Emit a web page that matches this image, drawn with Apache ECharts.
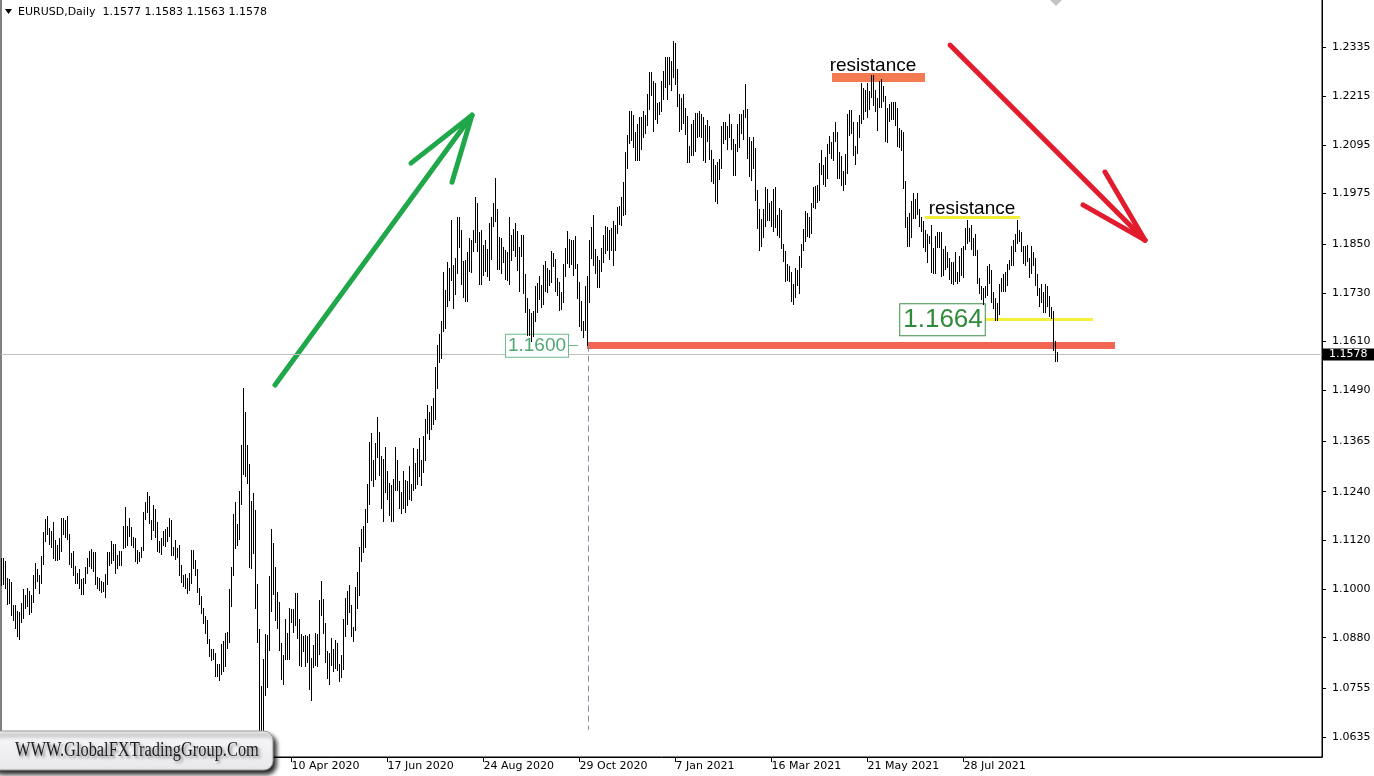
<!DOCTYPE html>
<html>
<head>
<meta charset="utf-8">
<title>EURUSD, Daily</title>
<script src="https://cdn.jsdelivr.net/npm/echarts@6/dist/echarts.min.js"></script>
<style>
  html, body { margin: 0; padding: 0; background: #ffffff; }
  #chart { width: 1374px; height: 776px; }
</style>
</head>
<body>
<div id="chart"></div>
<script>
// EURUSD daily bars, 18 Sep 2019 .. 1 Oct 2021 (one row per trading week)
const highs = [
  1.1075,1.1076,1.1068,
  1.1025,1.1024,1.1015,1.0959,1.0960,
  1.0944,1.0943,1.0964,1.0999,1.0984,
  1.1001,1.0994,1.0985,1.1034,1.1063,
  1.1047,1.1034,1.1081,1.1140,1.1172,
  1.1179,1.1150,1.1143,1.1163,1.1120,
  1.1108,1.1125,1.1175,1.1175,1.1168,
  1.1179,1.1135,1.1087,1.1093,1.1055,
  1.1039,1.1047,1.1023,1.1027,1.1052,
  1.1075,1.1092,1.1098,1.1090,1.1089,
  1.1029,1.1025,1.1019,1.1015,1.1035,
  1.1090,1.1091,1.1116,1.1111,1.1110,
  1.1083,1.1092,1.1093,1.1154,1.1200,
  1.1155,1.1175,1.1151,1.1127,1.1125,
  1.1096,1.1089,1.1102,1.1188,
  1.1214,1.1239,1.1229,1.1170,
  1.1205,1.1196,1.1164,1.1118,1.1125,
  1.1141,1.1147,1.1152,1.1173,1.1168,
  1.1102,1.1119,1.1100,1.1107,1.1057,
  1.1034,1.1037,1.1025,1.1038,1.1096,
  1.1095,1.1070,1.1048,1.1002,1.0982,
  1.0953,1.0933,1.0922,1.0875,1.0850,
  1.0850,1.0840,1.0815,1.0815,1.0863,
  1.0870,1.0890,1.0893,1.1000,1.1053,
  1.1185,1.1214,1.1160,1.1241,1.1354,
  1.1495,1.1435,1.1355,1.1308,1.1216,
  1.1236,1.1194,1.1012,1.0900,1.0760,
  1.0827,1.0888,1.0885,1.1030,1.1147,
  1.1113,1.1054,1.0992,1.0966,1.0865,
  1.0837,1.0925,1.0891,1.0952,1.0950,
  1.0950,1.0990,1.0990,1.0926,1.0888,
  1.0884,1.0886,1.0883,1.0887,1.0829,
  1.0860,1.0890,1.0888,1.0973,1.1019,
  1.0975,1.0915,1.0847,1.0840,1.0877,
  1.0852,1.0873,1.0865,1.0815,1.0835,
  1.0926,1.0976,1.0995,1.1008,1.0960,
  1.0905,1.1005,1.1040,1.1102,1.1146,
  1.1155,1.1196,1.1257,1.1362,1.1384,
  1.1316,1.1360,1.1422,1.1387,1.1327,
  1.1320,1.1349,1.1290,1.1260,1.1256,
  1.1270,1.1349,1.1318,1.1265,1.1237,
  1.1289,1.1268,1.1265,1.1303,1.1258,
  1.1346,1.1310,1.1345,1.1372,1.1318,
  1.1375,1.1418,1.1452,1.1435,1.1450,
  1.1469,1.1546,1.1601,1.1627,1.1660,
  1.1781,1.1735,1.1805,1.1790,1.1909,
  1.1797,1.1815,1.1916,1.1916,1.1885,
  1.1808,1.1810,1.1830,1.1865,1.1860,
  1.1885,1.1966,1.1950,1.1880,1.1883,
  1.1848,1.1859,1.1838,1.1900,1.1915,
  1.1950,1.2011,1.1935,1.1867,1.1865,
  1.1843,1.1834,1.1829,1.1917,1.1871,
  1.1887,1.1900,1.1882,1.1843,1.1872,
  1.1872,1.1775,1.1717,1.1688,1.1680,
  1.1684,1.1745,1.1752,1.1770,1.1749,
  1.1797,1.1808,1.1790,1.1786,1.1832,
  1.1828,1.1813,1.1766,1.1755,1.1730,
  1.1800,1.1840,1.1881,1.1862,1.1860,
  1.1860,1.1870,1.1800,1.1755,1.1708,
  1.1660,1.1745,1.1770,1.1860,1.1891,
  1.1920,1.1838,1.1820,1.1810,1.1840,
  1.1872,1.1894,1.1892,1.1883,1.1890,
  1.1905,1.1895,1.1940,1.1942,1.1965,
  1.2003,1.2077,1.2117,1.2176,1.2178,
  1.2167,1.2125,1.2145,1.2163,1.2162,
  1.2177,1.2167,1.2220,1.2273,1.2274,
  1.2250,1.2245,1.2197,1.2200,
  1.2250,1.2276,1.2310,1.2310,
  1.2310,1.2300,1.2349,1.2345,1.2280,
  1.2220,1.2210,1.2220,1.2185,1.2165,
  1.2090,1.2145,1.2154,1.2173,1.2172,
  1.2178,1.2170,1.2162,1.2142,1.2155,
  1.2140,1.2080,1.2060,1.2045,1.2052,
  1.2060,1.2140,1.2150,1.2150,1.2140,
  1.2169,1.2145,1.2108,1.2095,1.2144,
  1.2170,1.2170,1.2180,1.2243,1.2183,
  1.2112,1.2103,1.2114,1.2087,1.1982,
  1.1935,1.1910,1.1935,1.1990,1.1985,
  1.1950,1.1955,1.1985,1.1990,1.1920,
  1.1937,1.1934,1.1850,1.1832,1.1800,
  1.1794,1.1780,1.1750,1.1790,1.1785,
  1.1820,1.1850,1.1887,1.1930,1.1925,
  1.1917,1.1950,1.1990,1.1992,1.1995,
  1.2048,1.2080,1.2045,1.2065,1.2095,
  1.2115,1.2100,1.2125,1.2150,1.2125,
  1.2077,1.2067,1.2030,1.2070,1.2170,
  1.2180,1.2180,1.2150,1.2092,1.2150,
  1.2167,1.2245,1.2233,1.2230,1.2245,
  1.2227,1.2266,1.2265,1.2230,1.2210,
  1.2250,1.2255,1.2240,1.2215,1.2185,
  1.2195,1.2200,1.2200,1.2200,1.2185,
  1.2135,1.2130,1.2125,1.2005,1.1915,
  1.1925,1.1955,1.1975,1.1960,1.1975,
  1.1935,1.1915,1.1905,1.1885,1.1875,
  1.1870,1.1895,1.1840,1.1868,1.1880,
  1.1880,1.1880,1.1837,1.1845,1.1830,
  1.1815,1.1805,1.1805,1.1830,1.1780,
  1.1820,1.1840,1.1845,1.1890,1.1909,
  1.1890,1.1895,1.1865,1.1875,1.1835,
  1.1765,1.1745,1.1740,1.1745,1.1795,
  1.1800,1.1785,1.1730,1.1715,1.1705,
  1.1750,1.1765,1.1775,1.1780,1.1800,
  1.1810,1.1845,1.1858,1.1875,1.1909,
  1.1885,1.1880,1.1845,1.1845,1.1847,
  1.1815,1.1845,1.1830,1.1815,1.1775,
  1.1740,1.1750,1.1730,1.1750,1.1745,
  1.1720,1.1695,1.1685,1.1610,1.1583
];
const lows = [
  1.1010,1.1014,1.1003,
  1.0965,1.0968,1.0938,1.0925,1.0904,
  1.0885,1.0879,1.0921,1.0931,1.0955,
  1.0960,1.0940,1.0944,1.0969,1.1005,
  1.1020,1.0991,1.1016,1.1064,1.1120,
  1.1136,1.1113,1.1106,1.1079,1.1072,
  1.1074,1.1075,1.1094,1.1138,1.1130,
  1.1125,1.1064,1.1055,1.1035,1.1017,
  1.1017,1.1004,1.0989,1.0990,1.1015,
  1.1040,1.1059,1.1052,1.1046,1.1014,
  1.1005,1.0999,1.0993,1.0997,1.0981,
  1.1013,1.1060,1.1066,1.1074,1.1040,
  1.1053,1.1060,1.1061,1.1103,1.1106,
  1.1111,1.1133,1.1109,1.1105,1.1070,
  1.1065,1.1071,1.1080,1.1098,
  1.1175,1.1192,1.1164,1.1125,
  1.1147,1.1130,1.1095,1.1092,1.1087,
  1.1111,1.1107,1.1120,1.1132,1.1086,
  1.1085,1.1075,1.1080,1.1036,1.1019,
  1.1009,1.1005,1.0992,1.1000,1.1017,
  1.1054,1.1037,1.0994,1.0965,1.0942,
  1.0918,1.0894,1.0869,1.0835,1.0827,
  1.0828,1.0787,1.0787,1.0778,1.0791,
  1.0800,1.0812,1.0855,1.0870,1.0960,
  1.1036,1.1103,1.1110,1.1125,1.1212,
  1.1285,1.1281,1.1262,1.1055,1.1054,
  1.1091,1.0955,1.0870,1.0654,1.0638,
  1.0636,1.0740,1.0760,1.0850,1.0946,
  1.0988,1.0925,1.0905,1.0850,1.0780,
  1.0768,1.0830,1.0830,1.0830,1.0920,
  1.0895,1.0912,1.0880,1.0815,1.0812,
  1.0849,1.0812,1.0822,1.0755,1.0727,
  1.0810,1.0814,1.0812,1.0840,1.0937,
  1.0893,1.0822,1.0782,1.0767,1.0815,
  1.0799,1.0806,1.0802,1.0775,1.0785,
  1.0805,1.0885,1.0915,1.0945,1.0885,
  1.0872,1.0900,1.0955,1.0986,1.1071,
  1.1092,1.1105,1.1167,1.1210,1.1270,
  1.1255,1.1272,1.1327,1.1283,1.1200,
  1.1168,1.1240,1.1224,1.1185,1.1168,
  1.1168,1.1245,1.1245,1.1200,1.1188,
  1.1200,1.1190,1.1209,1.1222,1.1220,
  1.1245,1.1251,1.1260,1.1279,1.1257,
  1.1290,1.1320,1.1385,1.1370,1.1395,
  1.1407,1.1421,1.1497,1.1561,1.1571,
  1.1638,1.1645,1.1700,1.1713,1.1762,
  1.1695,1.1728,1.1780,1.1845,1.1753,
  1.1722,1.1711,1.1712,1.1785,1.1784,
  1.1835,1.1857,1.1834,1.1754,1.1753,
  1.1775,1.1785,1.1772,1.1763,1.1815,
  1.1895,1.1908,1.1789,1.1789,1.1780,
  1.1808,1.1766,1.1762,1.1754,1.1812,
  1.1837,1.1822,1.1787,1.1737,1.1822,
  1.1730,1.1684,1.1627,1.1627,1.1612,
  1.1625,1.1663,1.1685,1.1715,1.1696,
  1.1705,1.1735,1.1734,1.1750,1.1759,
  1.1797,1.1735,1.1725,1.1688,1.1692,
  1.1710,1.1773,1.1805,1.1795,1.1802,
  1.1775,1.1793,1.1718,1.1650,1.1640,
  1.1622,1.1640,1.1602,1.1710,1.1818,
  1.1800,1.1780,1.1745,1.1745,1.1785,
  1.1808,1.1830,1.1838,1.1815,1.1838,
  1.1800,1.1837,1.1878,1.1900,1.1898,
  1.1923,1.1925,1.2040,1.2100,1.2107,
  1.2090,1.2060,1.2059,1.2058,1.2085,
  1.2115,1.2125,1.2146,1.2185,1.2220,
  1.2130,1.2160,1.2150,1.2172,
  1.2180,1.2210,1.2240,1.2210,
  1.2245,1.2232,1.2264,1.2245,1.2193,
  1.2130,1.2135,1.2150,1.2122,1.2055,
  1.2055,1.2070,1.2070,1.2080,1.2115,
  1.2118,1.2116,1.2058,1.2053,1.2105,
  1.2062,1.2008,1.2003,1.1957,1.1952,
  1.2012,1.2040,1.2100,1.2110,1.2085,
  1.2115,1.2085,1.2023,1.2022,1.2080,
  1.2090,1.2125,1.2110,1.2165,1.2065,
  1.2020,1.2010,1.2040,1.1960,1.1892,
  1.1836,1.1847,1.1869,1.1895,1.1910,
  1.1910,1.1895,1.1885,1.1893,1.1874,
  1.1870,1.1842,1.1811,1.1760,1.1762,
  1.1760,1.1712,1.1704,1.1720,1.1750,
  1.1730,1.1795,1.1838,1.1860,1.1871,
  1.1868,1.1880,1.1942,1.1940,1.1955,
  1.1960,1.2025,1.2000,1.1995,1.2015,
  1.2075,1.2065,1.2060,1.2105,1.2015,
  1.2015,1.1997,1.1986,1.2000,1.2027,
  1.2120,1.2125,1.2070,1.2050,1.2075,
  1.2115,1.2150,1.2160,1.2180,1.2165,
  1.2185,1.2214,1.2195,1.2180,1.2133,
  1.2190,1.2190,1.2205,1.2105,1.2104,
  1.2155,1.2160,1.2160,1.2145,1.2093,
  1.2090,1.2083,1.1990,1.1893,1.1847,
  1.1847,1.1870,1.1915,1.1915,1.1925,
  1.1895,1.1885,1.1845,1.1835,1.1807,
  1.1855,1.1782,1.1780,1.1780,1.1845,
  1.1845,1.1772,1.1775,1.1790,1.1795,
  1.1765,1.1755,1.1752,1.1760,1.1755,
  1.1760,1.1775,1.1770,1.1840,1.1855,
  1.1860,1.1840,1.1825,1.1825,1.1755,
  1.1730,1.1715,1.1705,1.1720,1.1725,
  1.1755,1.1710,1.1695,1.1665,1.1664,
  1.1680,1.1735,1.1735,1.1735,1.1750,
  1.1790,1.1800,1.1800,1.1835,1.1855,
  1.1860,1.1835,1.1805,1.1800,1.1810,
  1.1770,1.1780,1.1800,1.1750,1.1725,
  1.1700,1.1710,1.1685,1.1685,1.1700,
  1.1675,1.1670,1.1590,1.1563,1.1563
];

// Quote of the last (current) bar: open, high, low, close
const lastQuote = [1.1577, 1.1583, 1.1563, 1.1578];

// Price scale labels on the right
const priceTicks = [1.2335, 1.2215, 1.2095, 1.1975, 1.1850, 1.1730, 1.1610,
                    1.1490, 1.1365, 1.1240, 1.1120, 1.1000, 1.0880, 1.0755, 1.0635];

// Time scale labels: bar number and date text
const dateTickBars = [145, 193, 241, 289, 337, 385, 433, 481];
const dateTickLabels = ['10 Apr 2020', '17 Jun 2020', '24 Aug 2020', '29 Oct 2020',
                        '7 Jan 2021', '16 Mar 2021', '21 May 2021', '28 Jul 2021'];

// Levels drawn on the chart
const supportPrice = 1.1600;   // 4 Nov 2020 low
const swingLowPrice = 1.1664;  // 20 Aug 2021 low
const topResistance = 1.2261;
const lowerResistance = 1.1917;

const FONT = 'DejaVu Sans';
const ARIAL = 'Liberation Sans, Arial, sans-serif';

const barData = highs.map((h, i) => [i, h, lows[i]]);

function renderBar(params, api) {
  const top = api.coord([api.value(0), api.value(1)]);
  const bot = api.coord([api.value(0), api.value(2)]);
  const x = Math.floor(top[0]) + 0.5;
  return {
    type: 'line',
    shape: { x1: x, y1: Math.floor(top[1]), x2: x, y2: Math.ceil(bot[1]) + 1 },
    style: { stroke: '#000000', lineWidth: 1 }
  };
}

function textPoint(coord, text, label) {
  return {
    coord: coord,
    value: text,
    label: Object.assign({ show: true, position: 'inside', formatter: text }, label)
  };
}

const chart = echarts.init(document.getElementById('chart'), null, { renderer: 'canvas' });

const option = {
  animation: false,
  backgroundColor: '#ffffff',
  grid: {
    left: 1, right: 52, top: -1, bottom: 19,
    show: true, borderColor: '#000000', borderWidth: 1,
    containLabel: false, outerBoundsMode: 'none'
  },
  xAxis: {
    type: 'value',
    min: -0.25,
    max: 660.25,
    splitLine: { show: false },
    axisLine: { show: true, onZero: false, lineStyle: { color: '#000000', width: 1 } },
    axisTick: { show: true, customValues: dateTickBars, length: 5, lineStyle: { color: '#000000' } },
    axisLabel: {
      customValues: dateTickBars,
      formatter: function (v) {
        const k = dateTickBars.findIndex(b => Math.abs(b - v) < 0.01);
        return k >= 0 ? dateTickLabels[k] : '';
      },
      align: 'left',
      margin: 4,
      fontFamily: FONT,
      fontSize: 11,
      color: '#000000'
    }
  },
  yAxis: {
    type: 'value',
    position: 'right',
    min: 1.0586,
    max: 1.24545,
    splitLine: { show: false },
    axisLine: { show: true, onZero: false, lineStyle: { color: '#000000', width: 1 } },
    axisTick: { show: true, customValues: priceTicks, length: 4, lineStyle: { color: '#000000' } },
    axisLabel: {
      customValues: priceTicks,
      formatter: v => v.toFixed(4),
      margin: 10,
      fontFamily: FONT,
      fontSize: 11,
      color: '#000000'
    }
  },
  series: [
    {
      name: 'levels',
      type: 'line',
      data: [],
      z: 2,
      silent: true,
      markLine: {
        silent: true,
        animation: false,
        precision: 4,
        symbol: ['none', 'none'],
        label: { show: false },
        data: [
          // bid line with the price tag on the scale
          {
            yAxis: lastQuote[3],
            lineStyle: { color: '#c0c0c0', width: 1, type: 'solid' },
            label: {
              show: true, position: 'end', distance: 1,
              formatter: () => lastQuote[3].toFixed(4),
              backgroundColor: '#000000', color: '#ffffff',
              fontFamily: FONT, fontSize: 11, padding: [1, 7, 0, 6]
            }
          },
          // support 1.1600
          [{ coord: [292.75, supportPrice], lineStyle: { color: '#f26552', width: 7, type: 'solid' } },
           { coord: [556.75, supportPrice] }],
          // support label tail
          [{ coord: [283.25, supportPrice], lineStyle: { color: '#6cb88c', width: 1, type: 'solid' } },
           { coord: [288.25, supportPrice] }],
          // vertical marker at the 1.1600 low
          [{ coord: [293.25, supportPrice], lineStyle: { color: '#8a8aa8', width: 1, type: [6, 4] } },
           { coord: [293.25, 1.0653] }],
          // upper resistance zone
          [{ coord: [415.25, topResistance], lineStyle: { color: '#f47a52', width: 9, type: 'solid' } },
           { coord: [461.75, topResistance] }],
          // lower resistance
          [{ coord: [461.75, lowerResistance], lineStyle: { color: '#f4f03a', width: 3, type: 'solid' } },
           { coord: [509.25, lowerResistance] }],
          // 1.1664 swing low
          [{ coord: [491.75, swingLowPrice], lineStyle: { color: '#f4f03a', width: 3, type: 'solid' } },
           { coord: [545.75, swingLowPrice] }]
        ]
      },
      markPoint: {
        silent: true,
        animation: false,
        symbol: 'rect',
        symbolSize: 1,
        itemStyle: { color: 'rgba(0,0,0,0)' },
        data: [
          textPoint([435.75, 1.2290], 'resistance',
            { fontFamily: ARIAL, fontSize: 19, color: '#000000' }),
          textPoint([485.25, 1.1937], 'resistance',
            { fontFamily: ARIAL, fontSize: 19, color: '#000000' }),
          textPoint([267.75, supportPrice], supportPrice.toFixed(4),
            { fontFamily: ARIAL, fontSize: 19, color: '#4fa874', backgroundColor: '#ffffff',
              borderColor: '#6cb88c', borderWidth: 1, padding: [2, 2, 1, 2] }),
          textPoint([470.5, swingLowPrice], swingLowPrice.toFixed(4),
            { fontFamily: ARIAL, fontSize: 26, color: '#2f8a3a', backgroundColor: '#ffffff',
              borderColor: '#3c9048', borderWidth: 1, padding: [3, 2, 2, 3] })
        ]
      }
    },
    {
      name: 'arrows',
      type: 'lines',
      coordinateSystem: 'cartesian2d',
      z: 3,
      silent: true,
      polyline: false,
      lineStyle: { width: 5, opacity: 1, cap: 'round' },
      data: [
        { coords: [[136.75, 1.1503], [235.25, 1.2168]], lineStyle: { color: '#1fa74a' } },
        { coords: [[204.75, 1.2050], [235.25, 1.2168]], lineStyle: { color: '#1fa74a' } },
        { coords: [[225.25, 1.2003], [235.25, 1.2168]], lineStyle: { color: '#1fa74a' } },
        { coords: [[474.25, 1.2341], [571.75, 1.1860]], lineStyle: { color: '#e21c2c' } },
        { coords: [[540.75, 1.1947], [571.75, 1.1860]], lineStyle: { color: '#e21c2c' } },
        { coords: [[551.75, 1.2028], [571.75, 1.1860]], lineStyle: { color: '#e21c2c' } }
      ]
    },
    {
      name: 'EURUSD',
      type: 'custom',
      z: 10,
      silent: true,
      renderItem: renderBar,
      encode: { x: 0, y: [1, 2] },
      data: barData
    }
  ],
  graphic: [
    // chart shift marker
    { type: 'polygon', silent: true, z: 50,
      shape: { points: [[1050, 0], [1062, 0], [1056, 6]] },
      style: { fill: '#c4c4c4' } },
    // header
    { type: 'polygon', silent: true, z: 50,
      shape: { points: [[5, 9], [12, 9], [8.5, 14]] },
      style: { fill: '#000000' } },
    { type: 'text', silent: true, z: 50, x: 18, y: 12,
      style: {
        text: 'EURUSD,Daily  ' + lastQuote.map(v => v.toFixed(4)).join(' '),
        fontFamily: FONT, fontSize: 11, fill: '#000000',
        textVerticalAlign: 'middle', textAlign: 'left'
      } },
    // site badge
    { type: 'rect', silent: true, z: 100,
      shape: { x: -10, y: 731, width: 283, height: 39, r: 9 },
      style: {
        fill: new echarts.graphic.LinearGradient(0, 0, 0, 1, [
          { offset: 0, color: '#f8f8fa' }, { offset: 1, color: '#e8e8ec' }
        ]),
        stroke: '#9a9a9a', lineWidth: 1,
        shadowBlur: 4, shadowOffsetX: 3, shadowOffsetY: 4,
        shadowColor: 'rgba(0,0,0,0.85)'
      } },
    { type: 'text', silent: true, z: 101, x: 15, y: 751, scaleX: 0.82,
      style: {
        text: 'WWW.GlobalFXTradingGroup.Com',
        fontFamily: 'Liberation Serif, Times New Roman, serif', fontSize: 20,
        fill: '#1e1e1e', textVerticalAlign: 'middle', textAlign: 'left',
        textShadowColor: 'rgba(0,0,0,0.45)', textShadowBlur: 3,
        textShadowOffsetX: 2, textShadowOffsetY: 2
      } }
  ]
};

chart.setOption(option);
</script>
</body>
</html>
